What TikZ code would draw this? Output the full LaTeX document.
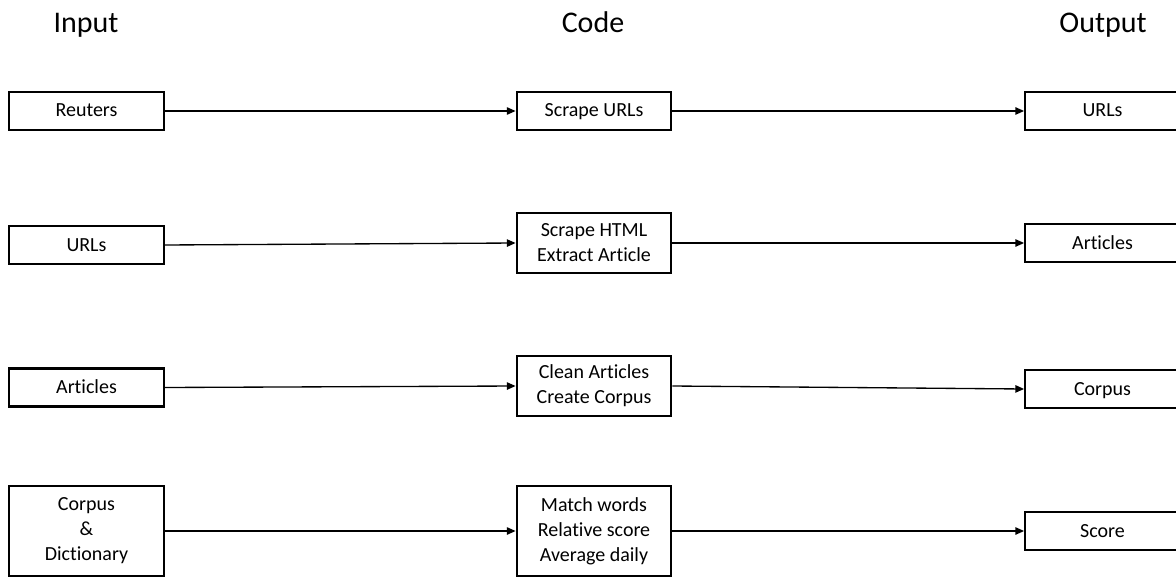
\documentclass[tikz,border=0pt]{standalone}
\usepackage{fontspec}
\setmainfont[Ligatures=NoCommon]{Carlito}
\usetikzlibrary{arrows.meta}
\tikzset{
  px/.style={x=0.75pt,y=-0.75pt},
  box/.style={draw=black,line width=1.6pt,fill=white,inner sep=0pt,
    minimum width=116pt,align=center,font=\fontsize{15}{18.8}\selectfont},
  onebox/.style={box,minimum height=28.5pt,text height=11.6pt,text depth=2.6pt},
  twobox/.style={box,minimum height=45pt},
  threebox/.style={box,minimum height=67.5pt},
  head/.style={font=\fontsize{22.5}{27}\selectfont,inner sep=0pt,anchor=base},
  link/.style={draw=black,line width=1pt,-{Triangle[length=6.5pt,width=5.5pt]}}
}
\begin{document}
\begin{tikzpicture}[px]
\useasboundingbox (0,0) rectangle (1176,577);
\clip (0,0) rectangle (1176,577);

% column headings, set on a common baseline
\node[head] (hin)   at (86,33)   {Input};
\node[head] (hcode) at (593,33)  {Code};
\node[head] (hout)  at (1103,33) {Output};

% row 1
\node[onebox] (in1)   at (86.5,111)   {Reuters};
\node[onebox] (code1) at (594,111)    {Scrape URLs};
\node[onebox] (out1)  at (1102.5,111) {URLs};

% row 2
\node[onebox] (in2)   at (86.5,245)   {URLs};
\node[twobox] (code2) at (594,243)    {Scrape HTML\\Extract Article};
\node[onebox] (out2)  at (1102.5,243) {Articles};

% row 3
\node[onebox] (in3)   at (86.5,387.5) {Articles};
\node[twobox] (code3) at (594,386)    {Clean Articles\\Create Corpus};
\node[onebox] (out3)  at (1102.5,389) {Corpus};

% row 4
\node[threebox] (in4)   at (86.5,531)   {Corpus\\\&\\Dictionary};
\node[threebox] (code4) at (594,531)    {Match words\\Relative score\\Average daily};
\node[onebox]   (out4)  at (1102.5,531) {Score};

% connectors: input -> code -> output in every row
\foreach \r in {1,2,3,4}{
  \draw[link] (in\r.east) -- (code\r.west);
  \draw[link] (code\r.east) -- (out\r.west);
}
\end{tikzpicture}
\end{document}
